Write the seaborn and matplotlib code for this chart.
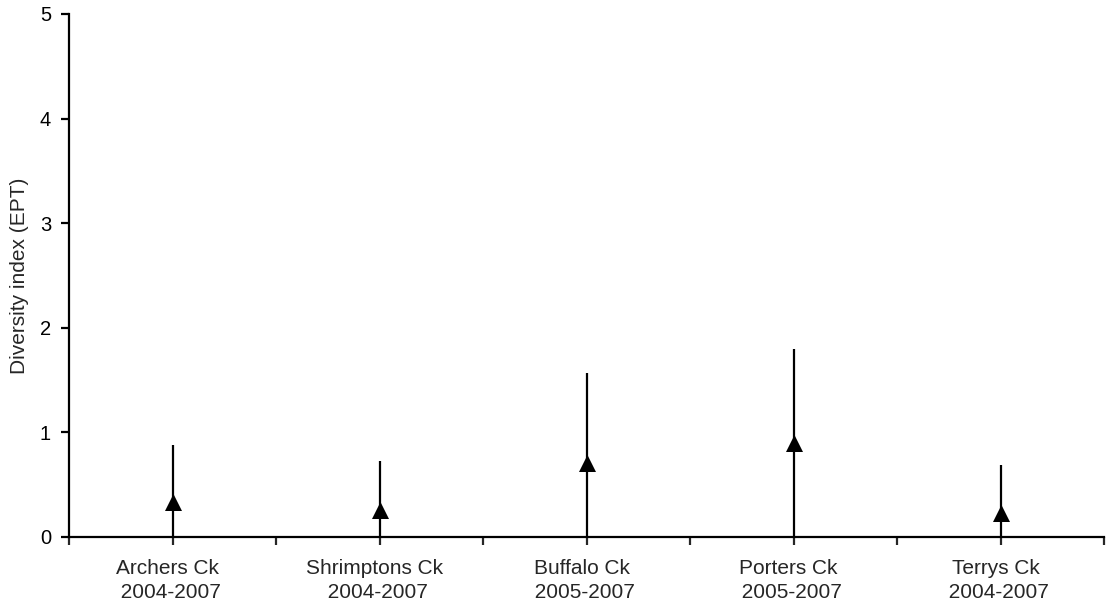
import matplotlib
matplotlib.use("Agg")
import matplotlib.pyplot as plt
import matplotlib.transforms as mtransforms
import seaborn as sns
import numpy as np
import pandas as pd
from matplotlib.ticker import FixedLocator

sites = ["Archers Ck", "Shrimptons Ck", "Buffalo Ck", "Porters Ck", "Terrys Ck"]
periods = ["2004-2007", "2004-2007", "2005-2007", "2005-2007", "2004-2007"]
means = [0.33, 0.26, 0.71, 0.90, 0.23]
errors = [0.55, 0.47, 0.86, 0.90, 0.46]
yticks = [0, 1, 2, 3, 4, 5]

sns.set_style("ticks")
plt.rcParams["font.family"] = ["Liberation Sans", "DejaVu Sans"]

labels = [f"{s}\n {p}" for s, p in zip(sites, periods)]
df = pd.DataFrame({"label": labels, "mean": means, "err": errors})

fig = plt.figure(figsize=(11.08, 6.05), dpi=100)
ax = fig.add_axes([0.0623, 0.1124, 0.9341, 0.8645])

xpos = np.arange(len(labels))
ax.errorbar(xpos, df["mean"], yerr=df["err"], fmt="none", ecolor="black",
            elinewidth=1.6, capsize=0, zorder=2)
sns.scatterplot(data=df, x="label", y="mean", marker="^", s=150, color="black",
                edgecolor="black", linewidth=0, ax=ax, zorder=3, legend=False)

ax.set_xlim(-0.5, len(labels) - 0.5)
ax.set_ylim(0, 5)
ax.set_yticks(yticks)
ax.set_yticklabels([str(v) for v in yticks], fontsize=14.5)
ax.set_xticks(xpos)
ax.set_xticklabels(labels, fontsize=15, linespacing=1.35)
ax.xaxis.set_minor_locator(FixedLocator(np.arange(-0.5, len(labels), 1.0)))
ax.set_xlabel("")
ax.set_ylabel("Diversity index (EPT)", fontsize=15, labelpad=8)

for side in ["top", "right"]:
    ax.spines[side].set_visible(False)
for side in ["left", "bottom"]:
    ax.spines[side].set_linewidth(1.6)
    ax.spines[side].set_color("black")
    ax.spines[side].set_zorder(4)

ax.tick_params(axis="y", direction="out", length=6, width=1.6, colors="black", pad=7)
ax.tick_params(axis="x", which="major", direction="out", length=6, width=1.6, pad=10)
ax.tick_params(axis="x", which="minor", direction="out", length=6, width=1.6)

shift = mtransforms.ScaledTranslation(-5 / 100, 0, fig.dpi_scale_trans)
for tick in ax.xaxis.get_major_ticks():
    tick.label1.set_transform(tick.label1.get_transform() + shift)

fig.savefig("out.png", dpi=100)
